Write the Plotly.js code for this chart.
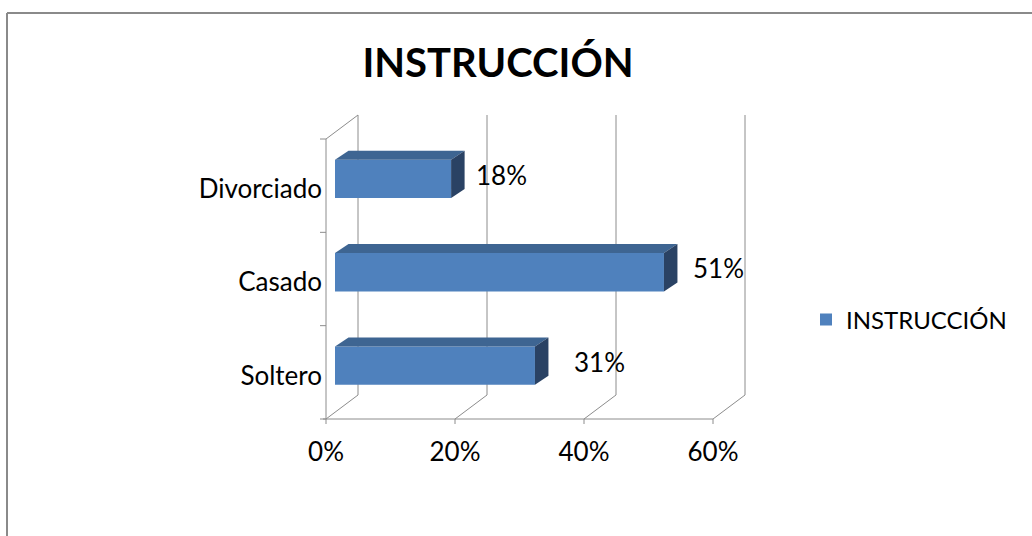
<!DOCTYPE html>
<html>
<head>
<meta charset="utf-8">
<script src="https://cdn.plot.ly/plotly-3.0.1.min.js"></script>
<style>html,body{margin:0;padding:0;background:#fff;}#chart{width:1032px;height:536px;}</style>
</head>
<body>
<div id="chart"></div>
<script>
// ---- data ----
const categories = ['Soltero', 'Casado', 'Divorciado'];
const values = [31, 51, 18];
const valueLabels = ['31%', '51%', '18%'];
const xTickValues = [0, 20, 40, 60];
const xTickLabels = ['0%', '20%', '40%', '60%'];
const seriesName = 'INSTRUCCIÓN';
const chartTitle = 'INSTRUCCIÓN';

// ---- geometry / style ----
const W = 1032, H = 536;
const L = 326, R = 760, T = 100, B = 434;      // plot area in px
const barZeroPx = 335, pxPerUnit = 6.45;        // bar plane mapping (x)
const catPx = 93.33, catLowPx = 412.25;         // bar plane mapping (y): px of index -0.5
const xr = [(L - barZeroPx) / pxPerUnit, (R - barZeroPx) / pxPerUnit];
const yr = [-0.5 - (B - catLowPx) / catPx, -0.5 + (catLowPx - T) / catPx];
const frontOff = [-9, 6.75];     // front plane relative to bar plane (px)
const depth = [32, -24];         // floor/wall depth (px)
const barDepth = [13.5, -9];     // bar depth (px)
const barWidth = 0.41;
const labelShiftX = [39, 29, 25];
const gridColor = '#8c8c8c';
const FONT = 'Lato, "Liberation Sans", sans-serif';

const pxX = v => L + (v - xr[0]) * (R - L) / (xr[1] - xr[0]);
const pxY = c => B - (c - yr[0]) * (B - T) / (yr[1] - yr[0]);
const fx = px => (px - L) / (R - L);
const fy = py => (B - py) / (B - T);

const shapes = [];
function line(x0, y0, x1, y1) {
  shapes.push({type: 'line', xref: 'paper', yref: 'paper', layer: 'below',
    x0: fx(x0), y0: fy(y0), x1: fx(x1), y1: fy(y1),
    line: {color: gridColor, width: 1}});
}
// front plane positions
const floorY = pxY(-0.5) + frontOff[1];
const topY = pxY(categories.length - 0.5) + frontOff[1];
const frontX = t => pxX(t) + frontOff[0];
const leftX = frontX(0);
// floor front line
line(leftX - 3, floorY, frontX(xTickValues[xTickValues.length - 1]), floorY);
xTickValues.forEach(t => {
  const fxp = frontX(t);
  line(fxp, floorY, fxp + depth[0], floorY + depth[1]);
  line(fxp + depth[0], floorY + depth[1], fxp + depth[0], topY + depth[1]);
  line(fxp, floorY, fxp, floorY + 5);
});
// left wall
line(leftX, topY, leftX, floorY);
line(leftX, topY, leftX + depth[0], topY + depth[1]);
for (let b = 0; b <= categories.length; b++) {
  const yb = pxY(b - 0.5) + frontOff[1];
  line(leftX - 6, yb, leftX, yb);
}
// outer border (cut at right / bottom)
shapes.push({type: 'line', xref: 'paper', yref: 'paper', x0: fx(7), y0: fy(13), x1: fx(W + 5), y1: fy(13), line: {color: '#8a8a8a', width: 2}});
shapes.push({type: 'line', xref: 'paper', yref: 'paper', x0: fx(7), y0: fy(13), x1: fx(7), y1: fy(H + 5), line: {color: '#8a8a8a', width: 2}});

// bar 3D faces (data coordinates)
const dxu = barDepth[0] / pxPerUnit;
const dyu = -barDepth[1] / catPx;
values.forEach((v, i) => {
  const yt = i + barWidth / 2, yb = i - barWidth / 2;
  shapes.push({type: 'path', xref: 'x', yref: 'y', layer: 'above',
    path: `M0,${yt} L${v},${yt} L${v + dxu},${yt + dyu} L${dxu},${yt + dyu} Z`,
    fillcolor: '#3E6592', line: {width: 0}});
  shapes.push({type: 'path', xref: 'x', yref: 'y', layer: 'above',
    path: `M${v},${yb} L${v + dxu},${yb + dyu} L${v + dxu},${yt + dyu} L${v},${yt} Z`,
    fillcolor: '#2A4264', line: {width: 0}});
});

const annotations = values.map((v, i) => ({
  x: v, y: i, xref: 'x', yref: 'y', text: valueLabels[i], showarrow: false,
  xanchor: 'left', yanchor: 'middle', xshift: labelShiftX[i] - 2, yshift: 4,
  font: {family: FONT, size: 26, color: '#000'}
}));

const trace = {
  type: 'bar', orientation: 'h', name: seriesName,
  x: values, y: categories.map((c, i) => i), width: barWidth,
  marker: {color: '#4F81BD', line: {width: 0}},
  showlegend: true, hoverinfo: 'x+y'
};

const layout = {
  width: W, height: H,
  margin: {l: L, r: W - R, t: T, b: H - B, pad: 0},
  paper_bgcolor: '#fff', plot_bgcolor: 'rgba(0,0,0,0)',
  title: {text: '<b>' + chartTitle + '</b>', x: 498 / W, xanchor: 'center',
    y: 1 - 63 / H, yanchor: 'middle', yref: 'container', xref: 'container',
    font: {family: FONT, size: 40, color: '#000'}},
  xaxis: {range: xr, showgrid: false, zeroline: false, showline: false, ticks: '',
    tickmode: 'array', tickvals: xTickValues.map(t => t + frontOff[0] / pxPerUnit), ticktext: xTickLabels,
    tickfont: {family: FONT, size: 26, color: '#000'}, fixedrange: true},
  yaxis: {range: yr, showgrid: false, zeroline: false, showline: false, ticks: '',
    tickmode: 'array', tickvals: categories.map((c, i) => i), ticktext: categories,
    ticklabelshift: 10, ticklabelstandoff: 3,
    tickfont: {family: FONT, size: 26, color: '#000'}, fixedrange: true},
  showlegend: true,
  legend: {xref: 'container', yref: 'container', x: 806 / W, y: 1 - 320 / H,
    xanchor: 'left', yanchor: 'middle', font: {family: FONT, size: 24, color: '#000'},
    bgcolor: 'rgba(0,0,0,0)'},
  shapes: shapes, annotations: annotations, bargap: 0.5
};

Plotly.newPlot('chart', [trace], layout, {displayModeBar: false, staticPlot: true});
</script>
</body>
</html>
